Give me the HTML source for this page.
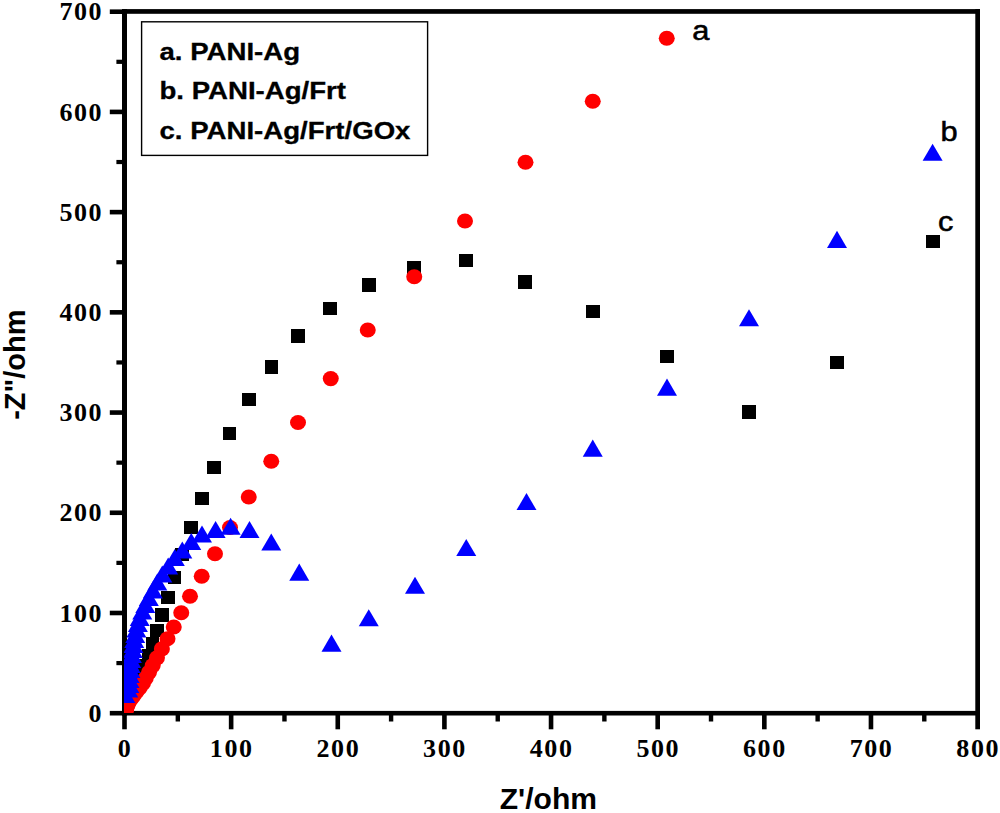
<!DOCTYPE html>
<html><head><meta charset="utf-8"><title>Nyquist plot</title>
<style>html,body{margin:0;padding:0;background:#fff;}body{width:1000px;height:813px;overflow:hidden;}svg{display:block;}.tk{font-family:"Liberation Serif",serif;font-weight:bold;font-size:26px;fill:#000;letter-spacing:1.6px;}.sb{font-family:"Liberation Sans",sans-serif;font-weight:bold;fill:#000;}</style></head><body>
<svg width="1000" height="813" viewBox="0 0 1000 813">
<rect x="0" y="0" width="1000" height="813" fill="#fff"/>
<g fill="#000">
<rect x="122" y="9.1" width="858" height="4.7"/>
<rect x="122" y="710.9" width="858" height="4.6"/>
<rect x="122" y="9.1" width="5" height="706.4"/>
<rect x="975.3" y="9.1" width="4.7" height="720.2"/>
</g>
<g fill="#000">
<rect x="122.20" y="715" width="4.6" height="14.3"/>
<rect x="175.62" y="715" width="4.4" height="6.5"/>
<rect x="228.84" y="715" width="4.6" height="14.3"/>
<rect x="282.26" y="715" width="4.4" height="6.5"/>
<rect x="335.47" y="715" width="4.6" height="14.3"/>
<rect x="388.89" y="715" width="4.4" height="6.5"/>
<rect x="442.11" y="715" width="4.6" height="14.3"/>
<rect x="495.53" y="715" width="4.4" height="6.5"/>
<rect x="548.75" y="715" width="4.6" height="14.3"/>
<rect x="602.17" y="715" width="4.4" height="6.5"/>
<rect x="655.39" y="715" width="4.6" height="14.3"/>
<rect x="708.81" y="715" width="4.4" height="6.5"/>
<rect x="762.03" y="715" width="4.6" height="14.3"/>
<rect x="815.44" y="715" width="4.4" height="6.5"/>
<rect x="868.66" y="715" width="4.6" height="14.3"/>
<rect x="922.08" y="715" width="4.4" height="6.5"/>
<rect x="109.8" y="710.90" width="13" height="4.6"/>
<rect x="116.4" y="660.99" width="6.4" height="4.2"/>
<rect x="109.8" y="610.69" width="13" height="4.6"/>
<rect x="116.4" y="560.78" width="6.4" height="4.2"/>
<rect x="109.8" y="510.47" width="13" height="4.6"/>
<rect x="116.4" y="460.56" width="6.4" height="4.2"/>
<rect x="109.8" y="410.26" width="13" height="4.6"/>
<rect x="116.4" y="360.35" width="6.4" height="4.2"/>
<rect x="109.8" y="310.04" width="13" height="4.6"/>
<rect x="116.4" y="260.14" width="6.4" height="4.2"/>
<rect x="109.8" y="209.83" width="13" height="4.6"/>
<rect x="116.4" y="159.92" width="6.4" height="4.2"/>
<rect x="109.8" y="109.61" width="13" height="4.6"/>
<rect x="116.4" y="59.71" width="6.4" height="4.2"/>
<rect x="109.8" y="9.40" width="13" height="4.6"/>
</g>
<text class="tk" text-anchor="middle" transform="translate(125.10,757.2) scale(1.000,1)">0</text>
<text class="tk" text-anchor="middle" transform="translate(231.74,757.2) scale(1.000,1)">100</text>
<text class="tk" text-anchor="middle" transform="translate(338.38,757.2) scale(1.000,1)">200</text>
<text class="tk" text-anchor="middle" transform="translate(445.01,757.2) scale(1.000,1)">300</text>
<text class="tk" text-anchor="middle" transform="translate(551.65,757.2) scale(1.000,1)">400</text>
<text class="tk" text-anchor="middle" transform="translate(658.29,757.2) scale(1.000,1)">500</text>
<text class="tk" text-anchor="middle" transform="translate(764.93,757.2) scale(1.000,1)">600</text>
<text class="tk" text-anchor="middle" transform="translate(871.56,757.2) scale(1.000,1)">700</text>
<text class="tk" text-anchor="middle" transform="translate(978.20,757.2) scale(1.000,1)">800</text>
<text class="tk" text-anchor="end" transform="translate(103.2,721.80) scale(1.000,1)">0</text>
<text class="tk" text-anchor="end" transform="translate(103.2,621.59) scale(1.000,1)">100</text>
<text class="tk" text-anchor="end" transform="translate(103.2,521.37) scale(1.000,1)">200</text>
<text class="tk" text-anchor="end" transform="translate(103.2,421.16) scale(1.000,1)">300</text>
<text class="tk" text-anchor="end" transform="translate(103.2,320.94) scale(1.000,1)">400</text>
<text class="tk" text-anchor="end" transform="translate(103.2,220.73) scale(1.000,1)">500</text>
<text class="tk" text-anchor="end" transform="translate(103.2,120.51) scale(1.000,1)">600</text>
<text class="tk" text-anchor="end" transform="translate(103.2,20.30) scale(1.000,1)">700</text>
<text class="sb" font-size="29.5" text-anchor="middle" transform="translate(548.4,809.3) scale(1.02,1)">Z'/ohm</text>
<text class="sb" font-size="29" text-anchor="middle" transform="translate(24.8,364.7) rotate(-90) scale(1,1.03)">-Z"/ohm</text>
<defs><clipPath id="pc"><rect x="124" y="0" width="876" height="712.6"/></clipPath></defs>
<g clip-path="url(#pc)">
<g fill="#000" shape-rendering="crispEdges">
<rect x="925.70" y="234.85" width="13.8" height="13.5"/>
<rect x="830.00" y="355.65" width="13.8" height="13.5"/>
<rect x="742.10" y="405.15" width="13.8" height="13.5"/>
<rect x="660.00" y="349.50" width="13.8" height="13.5"/>
<rect x="585.70" y="304.65" width="13.8" height="13.5"/>
<rect x="518.00" y="275.25" width="13.8" height="13.5"/>
<rect x="459.20" y="253.65" width="13.8" height="13.5"/>
<rect x="406.70" y="261.35" width="13.8" height="13.5"/>
<rect x="361.70" y="278.25" width="13.8" height="13.5"/>
<rect x="323.20" y="301.55" width="13.8" height="13.5"/>
<rect x="290.70" y="329.25" width="13.8" height="13.5"/>
<rect x="264.50" y="360.35" width="13.8" height="13.5"/>
<rect x="241.85" y="392.85" width="13.8" height="13.5"/>
<rect x="222.50" y="426.65" width="13.8" height="13.5"/>
<rect x="207.00" y="460.75" width="13.8" height="13.5"/>
<rect x="195.00" y="491.65" width="13.8" height="13.5"/>
<rect x="184.20" y="520.85" width="13.8" height="13.5"/>
<rect x="175.10" y="547.65" width="13.8" height="13.5"/>
<rect x="167.50" y="570.55" width="13.8" height="13.5"/>
<rect x="161.00" y="590.55" width="13.8" height="13.5"/>
<rect x="155.00" y="608.25" width="13.8" height="13.5"/>
<rect x="150.20" y="623.75" width="13.8" height="13.5"/>
<rect x="145.60" y="637.00" width="13.8" height="13.5"/>
<rect x="141.60" y="648.50" width="13.8" height="13.5"/>
<rect x="138.10" y="658.50" width="13.8" height="13.5"/>
<rect x="135.10" y="667.25" width="13.8" height="13.5"/>
<rect x="132.50" y="674.85" width="13.8" height="13.5"/>
<rect x="129.48" y="681.45" width="13.8" height="13.5"/>
<rect x="124.80" y="687.15" width="13.8" height="13.5"/>
<rect x="121.11" y="692.15" width="13.8" height="13.5"/>
<rect x="118.38" y="696.45" width="13.8" height="13.5"/>
<rect x="116.73" y="700.25" width="13.8" height="13.5"/>
<rect x="115.84" y="703.55" width="13.8" height="13.5"/>
</g><g fill="#ff0000">
<ellipse cx="666.75" cy="38.25" rx="8.0" ry="7.6"/>
<ellipse cx="592.75" cy="101.25" rx="8.0" ry="7.6"/>
<ellipse cx="525.50" cy="162.25" rx="8.0" ry="7.6"/>
<ellipse cx="465.00" cy="221.00" rx="8.0" ry="7.6"/>
<ellipse cx="414.25" cy="276.75" rx="8.0" ry="7.6"/>
<ellipse cx="367.75" cy="330.00" rx="8.0" ry="7.6"/>
<ellipse cx="330.75" cy="378.60" rx="8.0" ry="7.6"/>
<ellipse cx="298.00" cy="422.50" rx="8.0" ry="7.6"/>
<ellipse cx="271.25" cy="461.25" rx="8.0" ry="7.6"/>
<ellipse cx="248.75" cy="497.00" rx="8.0" ry="7.6"/>
<ellipse cx="230.00" cy="527.50" rx="8.0" ry="7.6"/>
<ellipse cx="215.00" cy="553.75" rx="8.0" ry="7.6"/>
<ellipse cx="201.70" cy="576.25" rx="8.0" ry="7.6"/>
<ellipse cx="190.00" cy="596.25" rx="8.0" ry="7.6"/>
<ellipse cx="181.25" cy="612.75" rx="8.0" ry="7.6"/>
<ellipse cx="173.75" cy="627.00" rx="8.0" ry="7.6"/>
<ellipse cx="167.50" cy="638.75" rx="8.0" ry="7.6"/>
<ellipse cx="161.88" cy="648.95" rx="8.0" ry="7.6"/>
<ellipse cx="156.97" cy="657.82" rx="8.0" ry="7.6"/>
<ellipse cx="152.70" cy="665.54" rx="8.0" ry="7.6"/>
<ellipse cx="149.01" cy="672.26" rx="8.0" ry="7.6"/>
<ellipse cx="145.79" cy="678.10" rx="8.0" ry="7.6"/>
<ellipse cx="143.00" cy="683.19" rx="8.0" ry="7.6"/>
<ellipse cx="139.86" cy="687.61" rx="8.0" ry="7.6"/>
<ellipse cx="136.70" cy="691.46" rx="8.0" ry="7.6"/>
<ellipse cx="133.96" cy="694.81" rx="8.0" ry="7.6"/>
<ellipse cx="131.86" cy="697.72" rx="8.0" ry="7.6"/>
<ellipse cx="130.05" cy="700.25" rx="8.0" ry="7.6"/>
<ellipse cx="128.60" cy="702.46" rx="8.0" ry="7.6"/>
<ellipse cx="127.77" cy="704.38" rx="8.0" ry="7.6"/>
<ellipse cx="127.05" cy="706.04" rx="8.0" ry="7.6"/>
<ellipse cx="126.42" cy="707.50" rx="8.0" ry="7.6"/>
<ellipse cx="126.05" cy="708.76" rx="8.0" ry="7.6"/>
<ellipse cx="125.83" cy="709.86" rx="8.0" ry="7.6"/>
<ellipse cx="125.64" cy="710.81" rx="8.0" ry="7.6"/>
<ellipse cx="125.47" cy="711.65" rx="8.0" ry="7.6"/>
<ellipse cx="125.33" cy="712.37" rx="8.0" ry="7.6"/>
<ellipse cx="125.20" cy="713.00" rx="8.0" ry="7.6"/>
<ellipse cx="125.09" cy="713.55" rx="8.0" ry="7.6"/>
<ellipse cx="125.00" cy="714.02" rx="8.0" ry="7.6"/>
<ellipse cx="124.91" cy="714.44" rx="8.0" ry="7.6"/>
<ellipse cx="124.84" cy="714.80" rx="8.0" ry="7.6"/>
<ellipse cx="124.78" cy="715.11" rx="8.0" ry="7.6"/>
<ellipse cx="124.72" cy="715.38" rx="8.0" ry="7.6"/>
<ellipse cx="124.68" cy="715.62" rx="8.0" ry="7.6"/>
<ellipse cx="124.63" cy="715.83" rx="8.0" ry="7.6"/>
<ellipse cx="124.60" cy="716.01" rx="8.0" ry="7.6"/>
</g><g fill="#0000ff">
<path d="M932.60 143.65L942.60 160.85L922.60 160.85Z"/>
<path d="M837.00 230.80L847.00 248.00L827.00 248.00Z"/>
<path d="M749.00 309.15L759.00 326.35L739.00 326.35Z"/>
<path d="M667.00 378.50L677.00 395.70L657.00 395.70Z"/>
<path d="M592.75 439.50L602.75 456.70L582.75 456.70Z"/>
<path d="M526.50 492.90L536.50 510.10L516.50 510.10Z"/>
<path d="M466.25 538.90L476.25 556.10L456.25 556.10Z"/>
<path d="M415.00 576.65L425.00 593.85L405.00 593.85Z"/>
<path d="M368.75 609.15L378.75 626.35L358.75 626.35Z"/>
<path d="M331.50 634.50L341.50 651.70L321.50 651.70Z"/>
<path d="M299.25 563.50L309.25 580.70L289.25 580.70Z"/>
<path d="M271.25 533.40L281.25 550.60L261.25 550.60Z"/>
<path d="M249.50 520.90L259.50 538.10L239.50 538.10Z"/>
<path d="M230.60 517.65L240.60 534.85L220.60 534.85Z"/>
<path d="M215.60 520.90L225.60 538.10L205.60 538.10Z"/>
<path d="M202.00 525.40L212.00 542.60L192.00 542.60Z"/>
<path d="M191.25 532.90L201.25 550.10L181.25 550.10Z"/>
<path d="M182.30 541.40L192.30 558.60L172.30 558.60Z"/>
<path d="M174.80 548.90L184.80 566.10L164.80 566.10Z"/>
<path d="M168.20 557.40L178.20 574.60L158.20 574.60Z"/>
<path d="M162.30 565.40L172.30 582.60L152.30 582.60Z"/>
<path d="M157.30 573.40L167.30 590.60L147.30 590.60Z"/>
<path d="M152.80 581.40L162.80 598.60L142.80 598.60Z"/>
<path d="M148.80 588.90L158.80 606.10L138.80 606.10Z"/>
<path d="M145.30 595.90L155.30 613.10L135.30 613.10Z"/>
<path d="M142.30 602.40L152.30 619.60L132.30 619.60Z"/>
<path d="M139.70 608.90L149.70 626.10L129.70 626.10Z"/>
<path d="M137.90 614.90L147.90 632.10L127.90 632.10Z"/>
<path d="M136.40 620.40L146.40 637.60L126.40 637.60Z"/>
<path d="M135.20 625.90L145.20 643.10L125.20 643.10Z"/>
<path d="M134.20 630.90L144.20 648.10L124.20 648.10Z"/>
<path d="M133.40 635.90L143.40 653.10L123.40 653.10Z"/>
<path d="M132.80 640.90L142.80 658.10L122.80 658.10Z"/>
<path d="M131.90 645.90L141.90 663.10L121.90 663.10Z"/>
<path d="M131.20 650.90L141.20 668.10L121.20 668.10Z"/>
<path d="M130.70 655.90L140.70 673.10L120.70 673.10Z"/>
<path d="M130.40 660.90L140.40 678.10L120.40 678.10Z"/>
<path d="M129.70 665.90L139.70 683.10L119.70 683.10Z"/>
<path d="M129.50 670.90L139.50 688.10L119.50 688.10Z"/>
<path d="M129.40 675.90L139.40 693.10L119.40 693.10Z"/>
<path d="M128.30 680.40L138.30 697.60L118.30 697.60Z"/>
<path d="M125.30 685.70L135.30 702.90L115.30 702.90Z"/>
</g></g>
<rect x="141.6" y="21.8" width="286" height="133.6" fill="#fff" stroke="#000" stroke-width="1.4"/>
<g stroke="#000" stroke-width="0.3">
<text class="sb" font-size="24" transform="translate(159.5,60) scale(1.150,1)">a. PANI-Ag</text>
<text class="sb" font-size="24" transform="translate(159.5,99) scale(1.150,1)">b. PANI-Ag/Frt</text>
<text class="sb" font-size="24" transform="translate(159.5,139) scale(1.150,1)">c. PANI-Ag/Frt/GOx</text>
</g>
<text font-family="Liberation Sans, sans-serif" font-size="28" fill="#000" stroke="#000" stroke-width="0.55" transform="translate(692.3,39.7) scale(1.10,1)">a</text>
<text font-family="Liberation Sans, sans-serif" font-size="28" fill="#000" stroke="#000" stroke-width="0.55" transform="translate(940.6,141) scale(1.10,1)">b</text>
<text font-family="Liberation Sans, sans-serif" font-size="28" fill="#000" stroke="#000" stroke-width="0.55" transform="translate(938.0,231) scale(1.10,1)">c</text>
</svg></body></html>
